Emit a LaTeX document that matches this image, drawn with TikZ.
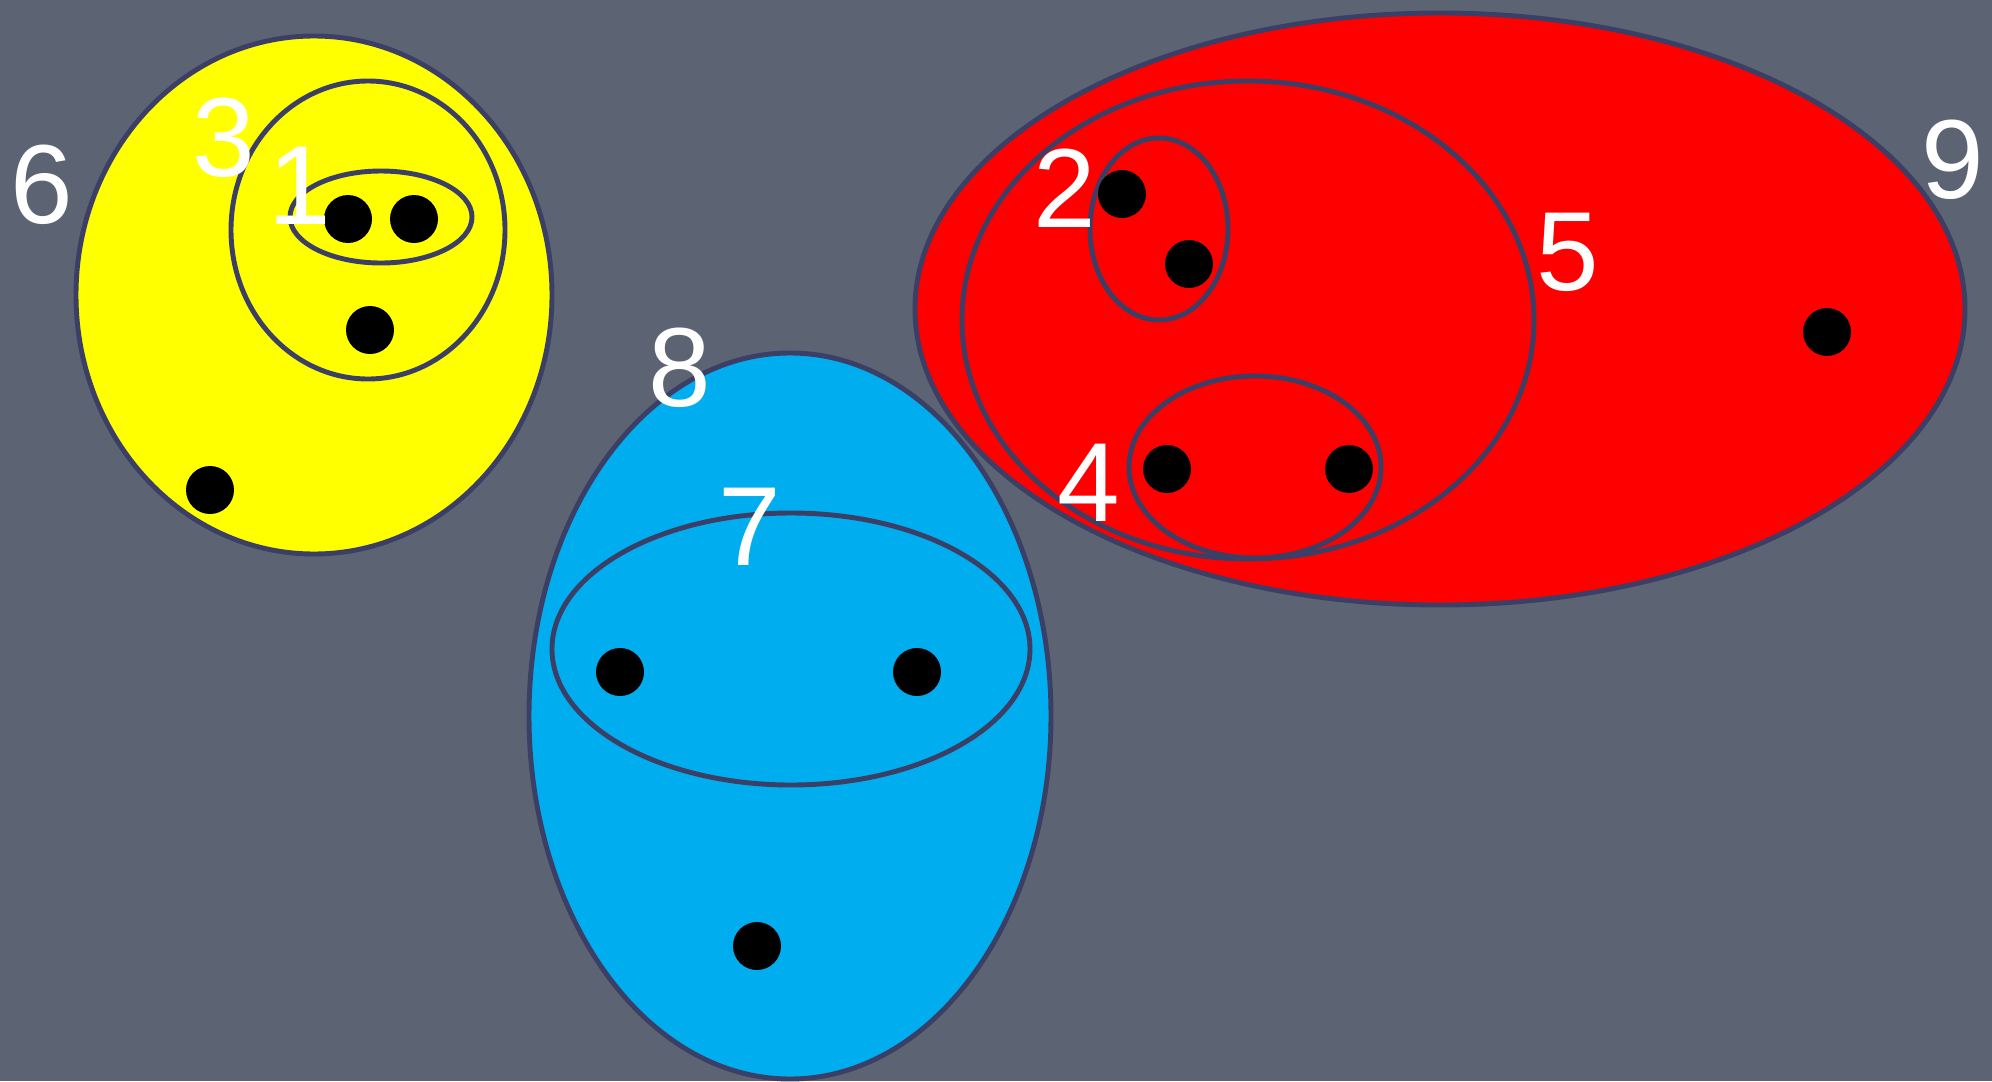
\documentclass[tikz,border=0pt]{standalone}
\usepackage{fontspec}
\setmainfont{Liberation Sans}
\usetikzlibrary{shapes.geometric}
\definecolor{bg}{HTML}{5C6373}
\definecolor{edge}{HTML}{3B3F66}
\definecolor{setyellow}{HTML}{FFFF00}
\definecolor{setred}{HTML}{FF0000}
\definecolor{setblue}{HTML}{00AEEF}
\tikzset{
  setshape/.style={ellipse, draw=edge, line width=1.4pt, inner sep=0pt},
  dot/.style={circle, fill=black, inner sep=0pt, minimum size=4.8mm},
  lbl/.style={text=white, font=\fontsize{32}{32}\selectfont, inner sep=0pt}
}
\begin{document}
\begin{tikzpicture}[x=0.1mm,y=-0.1mm]
\fill[bg] (0,0) rectangle (1992,1081);
\useasboundingbox (0,0) rectangle (1992,1081);
% yellow
\node[setshape, fill=setyellow, minimum width=47.6mm, minimum height=51.8mm] (s6) at (314,295) {};
\node[setshape, minimum width=27.4mm, minimum height=29.8mm] (s3) at (368,230) {};
\node[setshape, minimum width=18.2mm, minimum height=9.2mm] (s1) at (381,217) {};
\node[dot] (y1) at (348,219) {};
\node[dot] (y2) at (414,219) {};
\node[dot] (y3) at (370,330) {};
\node[dot] (y4) at (210,490) {};
% blue
\node[setshape, fill=setblue, minimum width=52.2mm, minimum height=72.6mm] (s8) at (790,716) {};
\node[setshape, minimum width=47.8mm, minimum height=27.2mm] (s7) at (791,649) {};
\node[dot] (b1) at (620,672) {};
\node[dot] (b2) at (917,672) {};
\node[dot] (b3) at (757,946) {};
% red
\node[setshape, fill=setred, minimum width=105mm, minimum height=59.2mm] (s9) at (1440,309) {};
\node[setshape, minimum width=57.2mm, minimum height=47.8mm] (s5) at (1248,320) {};
\node[setshape, minimum width=13.8mm, minimum height=18.2mm] (s2) at (1159,229) {};
\node[setshape, minimum width=25.2mm, minimum height=18.2mm] (s4) at (1255,467) {};
\node[dot] (r1) at (1122,194) {};
\node[dot] (r2) at (1189,264) {};
\node[dot] (r3) at (1167,469) {};
\node[dot] (r4) at (1349,469) {};
\node[dot] (r5) at (1827,332) {};
% labels
\node[lbl] (l6) at (42,185) {6};
\node[lbl] (l3) at (224,138) {3};
\node[lbl] (l1) at (300,186) {1};
\node[lbl] (l8) at (680,368) {8};
\node[lbl] (l7) at (750,527) {7};
\node[lbl] (l2) at (1065,188) {2};
\node[lbl] (l5) at (1568,252) {5};
\node[lbl] (l4) at (1089,483) {4};
\node[lbl] (l9) at (1953,160) {9};
\end{tikzpicture}
\end{document}
